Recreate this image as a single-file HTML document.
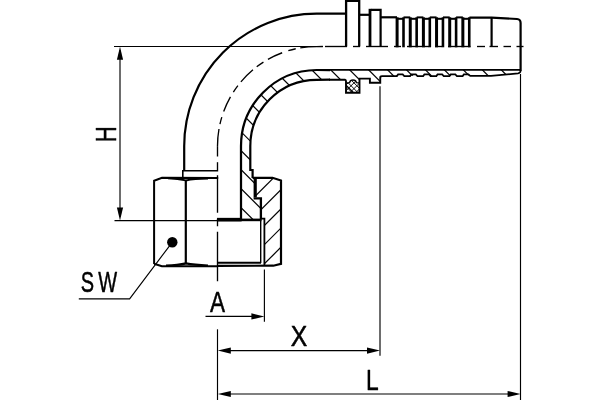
<!DOCTYPE html>
<html lang="en"><head><meta charset="utf-8"><title>Fitting drawing</title><style>html,body{margin:0;padding:0;background:#fff;}body{width:600px;height:400px;overflow:hidden;}svg{display:block;}</style></head><body>
<svg width="600" height="400" viewBox="0 0 600 400">
<rect width="600" height="400" fill="#fff"/>
<defs><clipPath id="cw"><path d="M241,220 L241,146.1 A76.1,76.1 0 0 1 316.6,70.0 L521,70.0 L521,72 L518.5,73.6 L491,75.5 L397,76 L380.25,76 L380.25,83 L369.9,83 L369.9,79 L359.4,79 L359.4,92.75 L346.2,92.75 L345.2,79 L316.6,79.8 A66.3,66.3 0 0 0 250.3,146.1 L250.3,170 L252.6,170 L252.6,178 L255,178 L255,198.5 L260.6,198.5 L260.6,220 Z"/></clipPath><clipPath id="cn"><path d="M256,178 L272.5,178 L281,180.5 L281,263.8 L273.5,265.8 L264,265.8 L264,219 L260.8,219 L260.8,198.5 L256,198.5 Z"/></clipPath><clipPath id="co"><path d="M346.5,92.5 L346.5,82.8 L349.6,82.6 Q350,80 353,80 Q356,80 356.4,82.6 L359.2,82.8 L359.2,92.5 Z"/></clipPath></defs>
<g fill="none" stroke="#000" stroke-linecap="butt" stroke-linejoin="miter">
<g clip-path="url(#cw)">
<line x1="230" y1="-315.1" x2="530" y2="-15.100000000000023" stroke-width="1.2" />
<line x1="230" y1="-296.15" x2="530" y2="3.8500000000000227" stroke-width="1.2" />
<line x1="230" y1="-277.2" x2="530" y2="22.80000000000001" stroke-width="1.2" />
<line x1="230" y1="-258.25" x2="530" y2="41.75" stroke-width="1.2" />
<line x1="230" y1="-239.29999999999995" x2="530" y2="60.700000000000045" stroke-width="1.2" />
<line x1="230" y1="-220.35000000000002" x2="530" y2="79.64999999999998" stroke-width="1.2" />
<line x1="230" y1="-201.39999999999998" x2="530" y2="98.60000000000002" stroke-width="1.2" />
<line x1="230" y1="-182.45" x2="530" y2="117.55000000000001" stroke-width="1.2" />
<line x1="230" y1="-163.5" x2="530" y2="136.5" stroke-width="1.2" />
<line x1="230" y1="-144.55" x2="530" y2="155.45" stroke-width="1.2" />
<line x1="230" y1="-125.60000000000002" x2="530" y2="174.39999999999998" stroke-width="1.2" />
<line x1="230" y1="-106.64999999999998" x2="530" y2="193.35000000000002" stroke-width="1.2" />
<line x1="230" y1="-87.69999999999999" x2="530" y2="212.3" stroke-width="1.2" />
<line x1="230" y1="-68.75" x2="530" y2="231.25" stroke-width="1.2" />
<line x1="230" y1="-49.80000000000001" x2="530" y2="250.2" stroke-width="1.2" />
<line x1="230" y1="-30.850000000000023" x2="530" y2="269.15" stroke-width="1.2" />
<line x1="230" y1="-11.900000000000006" x2="530" y2="288.1" stroke-width="1.2" />
<line x1="230" y1="7.050000000000011" x2="530" y2="307.05" stroke-width="1.2" />
<line x1="230" y1="26.0" x2="530" y2="326.0" stroke-width="1.2" />
<line x1="230" y1="44.94999999999999" x2="530" y2="344.95" stroke-width="1.2" />
<line x1="230" y1="63.900000000000006" x2="530" y2="363.9" stroke-width="1.2" />
<line x1="230" y1="82.85" x2="530" y2="382.85" stroke-width="1.2" />
<line x1="230" y1="101.79999999999998" x2="530" y2="401.79999999999995" stroke-width="1.2" />
<line x1="230" y1="120.75" x2="530" y2="420.75" stroke-width="1.2" />
<line x1="230" y1="139.7" x2="530" y2="439.7" stroke-width="1.2" />
<line x1="230" y1="158.64999999999998" x2="530" y2="458.65" stroke-width="1.2" />
<line x1="230" y1="177.6" x2="530" y2="477.6" stroke-width="1.2" />
<line x1="230" y1="196.55" x2="530" y2="496.55" stroke-width="1.2" />
<line x1="230" y1="215.5" x2="530" y2="515.5" stroke-width="1.2" />
</g>
<g clip-path="url(#cn)">
<line x1="250" y1="182.2" x2="290" y2="142.2" stroke-width="1.2" />
<line x1="250" y1="201.39999999999998" x2="290" y2="161.39999999999998" stroke-width="1.2" />
<line x1="250" y1="220.59999999999997" x2="290" y2="180.59999999999997" stroke-width="1.2" />
<line x1="250" y1="239.79999999999995" x2="290" y2="199.79999999999995" stroke-width="1.2" />
<line x1="250" y1="259.0" x2="290" y2="219.0" stroke-width="1.2" />
<line x1="250" y1="278.19999999999993" x2="290" y2="238.19999999999993" stroke-width="1.2" />
<line x1="250" y1="297.4" x2="290" y2="257.4" stroke-width="1.2" />
<line x1="250" y1="316.5999999999999" x2="290" y2="276.5999999999999" stroke-width="1.2" />
</g>
<g clip-path="url(#co)">
<line x1="340" y1="39.89999999999998" x2="365" y2="64.89999999999998" stroke-width="0.95" />
<line x1="340" y1="62.0" x2="365" y2="37.0" stroke-width="0.95" />
<line x1="340" y1="45.69999999999999" x2="365" y2="70.69999999999999" stroke-width="0.95" />
<line x1="340" y1="67.80000000000001" x2="365" y2="42.80000000000001" stroke-width="0.95" />
<line x1="340" y1="51.5" x2="365" y2="76.5" stroke-width="0.95" />
<line x1="340" y1="73.60000000000002" x2="365" y2="48.60000000000002" stroke-width="0.95" />
<line x1="340" y1="57.30000000000001" x2="365" y2="82.30000000000001" stroke-width="0.95" />
<line x1="340" y1="79.40000000000003" x2="365" y2="54.400000000000034" stroke-width="0.95" />
<line x1="340" y1="63.099999999999966" x2="365" y2="88.09999999999997" stroke-width="0.95" />
<line x1="340" y1="85.19999999999999" x2="365" y2="60.19999999999999" stroke-width="0.95" />
<line x1="340" y1="68.89999999999998" x2="365" y2="93.89999999999998" stroke-width="0.95" />
<line x1="340" y1="91.0" x2="365" y2="66.0" stroke-width="0.95" />
<line x1="340" y1="74.69999999999999" x2="365" y2="99.69999999999999" stroke-width="0.95" />
<line x1="340" y1="96.80000000000001" x2="365" y2="71.80000000000001" stroke-width="0.95" />
<line x1="340" y1="80.5" x2="365" y2="105.5" stroke-width="0.95" />
<line x1="340" y1="102.60000000000002" x2="365" y2="77.60000000000002" stroke-width="0.95" />
<line x1="340" y1="86.29999999999998" x2="365" y2="111.29999999999998" stroke-width="0.95" />
<line x1="340" y1="108.40000000000003" x2="365" y2="83.40000000000003" stroke-width="0.95" />
<line x1="340" y1="92.1" x2="365" y2="117.1" stroke-width="0.95" />
<line x1="340" y1="114.19999999999999" x2="365" y2="89.19999999999999" stroke-width="0.95" />
<line x1="340" y1="97.89999999999998" x2="365" y2="122.89999999999998" stroke-width="0.95" />
<line x1="340" y1="120.0" x2="365" y2="95.0" stroke-width="0.95" />
<line x1="340" y1="103.69999999999999" x2="365" y2="128.7" stroke-width="0.95" />
<line x1="340" y1="125.80000000000001" x2="365" y2="100.80000000000001" stroke-width="0.95" />
<line x1="340" y1="109.5" x2="365" y2="134.5" stroke-width="0.95" />
<line x1="340" y1="131.60000000000002" x2="365" y2="106.60000000000002" stroke-width="0.95" />
</g>
<path d="M346.5,82.8 L349.6,82.6 Q350,80 353,80 Q356,80 356.4,82.6 L359,82.8" stroke-width="1.3" />
<line x1="114" y1="46.5" x2="323" y2="46.5" stroke-width="1.15" />
<line x1="114.5" y1="220.6" x2="217.5" y2="220.6" stroke-width="1.15" />
<line x1="120" y1="50" x2="120" y2="217" stroke-width="1.15" />
<line x1="264.4" y1="269.5" x2="264.4" y2="321.7" stroke-width="1.15" />
<line x1="205.5" y1="316.4" x2="258" y2="316.4" stroke-width="1.15" />
<line x1="380.0" y1="86.2" x2="380.0" y2="355.8" stroke-width="1.15" />
<line x1="224" y1="350.6" x2="374" y2="350.6" stroke-width="1.15" />
<line x1="520.5" y1="74" x2="520.5" y2="400" stroke-width="1.15" />
<line x1="224" y1="394" x2="515" y2="394" stroke-width="1.15" />
<line x1="217.5" y1="329.3" x2="217.5" y2="400" stroke-width="1.15" />
<path d="M78.8,298.8 L129.6,298.8 L172.2,242.3" stroke-width="1.15" />
<line x1="217.5" y1="146.1" x2="217.5" y2="156.5" stroke-width="1.35" />
<line x1="217.5" y1="162.2" x2="217.5" y2="170" stroke-width="1.35" />
<line x1="217.5" y1="175.25" x2="217.5" y2="212.75" stroke-width="1.35" />
<line x1="217.5" y1="218.75" x2="217.5" y2="226.25" stroke-width="1.35" />
<line x1="217.5" y1="231.75" x2="217.5" y2="281.25" stroke-width="1.35" />
<path d="M217.5,146.1 A99.10000000000002,99.55 0 0 1 316.6,46.55" stroke-width="1.35" stroke-dasharray="17.2 5.1 7.2 5.8 16.1 5.6 7.9 4.8 17 4.8 8.2 5.2 15.7 6.4 7.7 4.6 30"/>
<line x1="316.6" y1="46.55" x2="322.8" y2="46.5" stroke-width="1.35" />
<line x1="325" y1="46.5" x2="347" y2="46.5" stroke-width="1.35" />
<line x1="353" y1="46.5" x2="360" y2="46.5" stroke-width="1.35" />
<line x1="366" y1="46.5" x2="388" y2="46.5" stroke-width="1.35" />
<line x1="394" y1="46.5" x2="401" y2="46.5" stroke-width="1.35" />
<line x1="407" y1="46.5" x2="429" y2="46.5" stroke-width="1.35" />
<line x1="435" y1="46.5" x2="442" y2="46.5" stroke-width="1.35" />
<line x1="448" y1="46.5" x2="470.5" y2="46.5" stroke-width="1.35" />
<line x1="477" y1="46.5" x2="485" y2="46.5" stroke-width="1.35" />
<line x1="489.5" y1="46.5" x2="498" y2="46.5" stroke-width="1.35" />
<line x1="503.5" y1="46.5" x2="511" y2="46.5" stroke-width="1.35" />
<line x1="516.5" y1="46.5" x2="523.5" y2="46.5" stroke-width="1.35" />
<path d="M184.2,171 L184.2,146.1 A132.4,132.4 0 0 1 316.6,13.699999999999989 L346.8,13.699999999999989" stroke-width="2.2" />
<path d="M218.2,170.8 L182.8,170.8 L182.8,178" stroke-width="1.6" />
<path d="M154.1,264 L154.1,180.7 L162,177.7 L218.2,177.9" stroke-width="2.0" />
<path d="M168,178.2 Q178,178.6 185.8,180.4 Q194,178.9 208,178.6" stroke-width="2.0" />
<line x1="185.8" y1="180" x2="185.8" y2="264" stroke-width="2.2" />
<path d="M154.1,263.7 L161.9,266.2 L218,266.2" stroke-width="2.0" />
<path d="M166,265.6 Q178,265.4 186,263.4 Q194,265 208,265.6" stroke-width="2.2" />
<circle cx="172.3" cy="242.3" r="5.2" fill="#000" stroke="none"/>
<path d="M241,220 L241,146.1 A76.1,76.1 0 0 1 316.6,70.0 L330,70.0" stroke-width="2.25" />
<path d="M329,69.9 L520.6,69.9" stroke-width="1.9" />
<path d="M252.6,178 L252.6,170 L250.3,170 L250.3,146.1 A66.3,66.3 0 0 1 316.6,79.8 L330,79.7" stroke-width="2.2" />
<path d="M329,79.7 L345.0,79.7 Q345.9,79.8 346,81 L346,92.75 L359.5,92.75 L359.5,78.6 L369.9,78.6 L369.9,82.8 L380.25,82.8 L380.25,77.5 Q380.25,76.1 382,76.1 L396.8,76.1" stroke-width="1.9" />
<path d="M396,76.1 L396.90,76.1 L398.10,74.4 L402.70,74.4 L404.30,76.1 L410.05,76.1 L411.25,74.4 L415.85,74.4 L417.45,76.1 L423.20,76.1 L424.40,74.4 L429.00,74.4 L430.60,76.1 L436.35,76.1 L437.55,74.4 L442.15,74.4 L443.75,76.1 L449.50,76.1 L450.70,74.4 L455.30,74.4 L456.90,76.1 L462.65,76.1 L463.85,74.4 L468.45,74.4 L470.2,75.8 L491,75.8 L518,73.4 Q520.6,73.1 520.6,70.5" stroke-width="1.7" />
<path d="M380.25,17.3 L397,17.3" stroke-width="2.2" />
<path d="M469.4,17.6 L491.6,17.6 L517,19 Q520.6,19.3 520.6,23 L520.6,71" stroke-width="2.2" />
<line x1="491.6" y1="17.6" x2="491.6" y2="46.5" stroke-width="2.2" />
<path d="M346.1,46.5 L346.1,0.9 L359.2,0.9 L359.2,46.5" stroke-width="2.3" />
<path d="M359.2,14.8 L370,14.8" stroke-width="2.2" />
<path d="M370.9,9.9 L380.6,9.9 L380.6,46.5" stroke-width="2.2" />
<line x1="370.0" y1="8.8" x2="370.0" y2="46.5" stroke-width="2.8" />
<line x1="397.1" y1="17.3" x2="397.1" y2="47.3" stroke-width="3.0" />
<line x1="403.5" y1="17.3" x2="403.5" y2="47.3" stroke-width="2.6" />
<line x1="397.1" y1="18.8" x2="403.5" y2="18.8" stroke-width="2.0" />
<line x1="403.5" y1="17.4" x2="410.25" y2="17.4" stroke-width="2.0" />
<line x1="410.25" y1="17.3" x2="410.25" y2="47.3" stroke-width="3.0" />
<line x1="416.65" y1="17.3" x2="416.65" y2="47.3" stroke-width="2.6" />
<line x1="410.25" y1="18.8" x2="416.65" y2="18.8" stroke-width="2.0" />
<line x1="416.65" y1="17.4" x2="423.4" y2="17.4" stroke-width="2.0" />
<line x1="423.40000000000003" y1="17.3" x2="423.40000000000003" y2="47.3" stroke-width="3.0" />
<line x1="429.8" y1="17.3" x2="429.8" y2="47.3" stroke-width="2.6" />
<line x1="423.40000000000003" y1="18.8" x2="429.8" y2="18.8" stroke-width="2.0" />
<line x1="429.8" y1="17.4" x2="436.55" y2="17.4" stroke-width="2.0" />
<line x1="436.55" y1="17.3" x2="436.55" y2="47.3" stroke-width="3.0" />
<line x1="442.95" y1="17.3" x2="442.95" y2="47.3" stroke-width="2.6" />
<line x1="436.55" y1="18.8" x2="442.95" y2="18.8" stroke-width="2.0" />
<line x1="442.95" y1="17.4" x2="449.7" y2="17.4" stroke-width="2.0" />
<line x1="449.70000000000005" y1="17.3" x2="449.70000000000005" y2="47.3" stroke-width="3.0" />
<line x1="456.1" y1="17.3" x2="456.1" y2="47.3" stroke-width="2.6" />
<line x1="449.70000000000005" y1="18.8" x2="456.1" y2="18.8" stroke-width="2.0" />
<line x1="456.1" y1="17.4" x2="462.85" y2="17.4" stroke-width="2.0" />
<line x1="462.85" y1="17.3" x2="462.85" y2="47.3" stroke-width="3.0" />
<line x1="469.25" y1="17.3" x2="469.25" y2="47.3" stroke-width="2.6" />
<line x1="462.85" y1="18.8" x2="469.25" y2="18.8" stroke-width="2.0" />
<path d="M252.6,177.8 L272.5,177.8 L281,180.5 L281,263.8 L273.3,265.7 L217.6,265.9" stroke-width="2.2" />
<path d="M255.2,177.8 L255.2,197.3" stroke-width="3.2" />
<path d="M253.6,198.4 L260.9,198.4 L260.9,219.5" stroke-width="2.3" />
<path d="M217,219.7 L241.5,219.7" stroke-width="3.7" />
<path d="M241,219.9 L261.5,219.9" stroke-width="2.6" />
<path d="M260.6,218.6 L264.4,218.6 L264.4,265.8" stroke-width="1.8" />
<line x1="260.7" y1="220" x2="260.7" y2="263" stroke-width="1.4" />
<line x1="217.6" y1="262.8" x2="261" y2="262.8" stroke-width="2.0" />
</g>
<polygon points="120,46.8 123.10,59.80 116.90,59.80" fill="#000"/>
<polygon points="120,220.4 116.90,207.40 123.10,207.40" fill="#000"/>
<polygon points="264.4,316.4 251.40,319.50 251.40,313.30" fill="#000"/>
<polygon points="217.8,350.6 230.80,347.50 230.80,353.70" fill="#000"/>
<polygon points="380.0,350.6 367.00,353.70 367.00,347.50" fill="#000"/>
<polygon points="217.8,394 230.80,390.90 230.80,397.10" fill="#000"/>
<polygon points="520.6,394 507.60,397.10 507.60,390.90" fill="#000"/>
<g style="opacity:0.999">
<text transform="translate(80.7,291.55) scale(0.685,1)" font-family="'Liberation Sans', sans-serif" font-size="29.2" letter-spacing="6.1" fill="#000" stroke="#000" stroke-width="0.5" stroke-linejoin="round">SW</text>
<text transform="translate(210.0,312.0) scale(0.756,1.0)" font-family="'Liberation Sans', sans-serif" font-size="29.8" fill="#000" stroke="#000" stroke-width="0.55" stroke-linejoin="round">A</text>
<text transform="translate(290.7,346.4) scale(0.83,1.0)" font-family="'Liberation Sans', sans-serif" font-size="29.8" fill="#000" stroke="#000" stroke-width="0.5" stroke-linejoin="round">X</text>
<text transform="translate(366.0,389.7) scale(0.768,1.0)" font-family="'Liberation Sans', sans-serif" font-size="29.8" fill="#000" stroke="#000" stroke-width="0.4" stroke-linejoin="round">L</text>
<text transform="translate(116.0,142.2) rotate(-90) scale(0.75,1.0)" font-family="'Liberation Sans', sans-serif" font-size="29.6" fill="#000" stroke="#000" stroke-width="0.3" stroke-linejoin="round">H</text>
</g>
</svg>
</body></html>
